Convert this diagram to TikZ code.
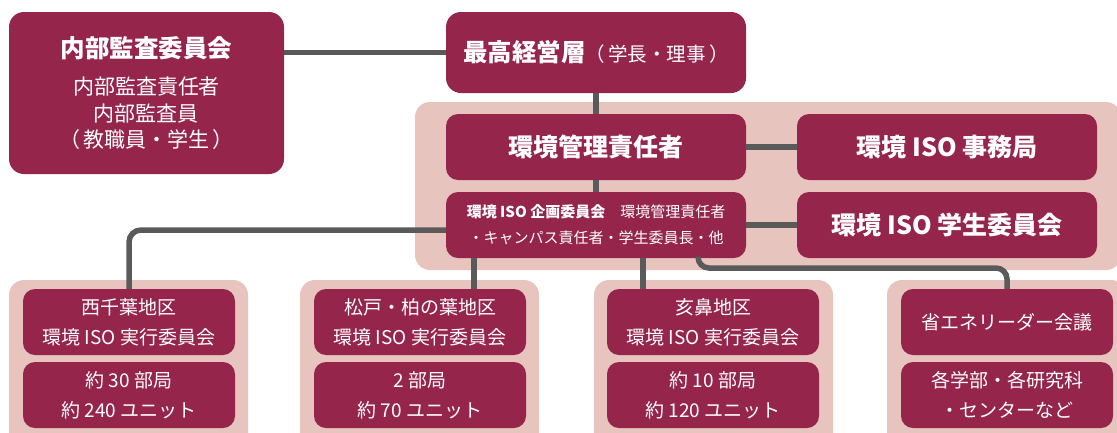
\documentclass[tikz,border=0pt]{standalone}
\usepackage{fontspec}
\setmainfont{Noto Sans CJK JP}
\definecolor{boxred}{RGB}{149,37,74}
\definecolor{bgpink}{RGB}{232,196,190}
\definecolor{linegray}{RGB}{90,90,90}
\begin{document}
\begin{tikzpicture}[x=1pt,y=-1pt,
  box/.style={fill=boxred,draw=none,rounded corners=12,text=white,align=center,inner sep=0pt,minimum width=300,minimum height=66},
  bgbox/.style={fill=bgpink,draw=none,rounded corners=15,inner sep=0pt},
  smallbox/.style={box,minimum width=212,minimum height=66,font=\fontsize{19}{30}\selectfont},
  bigt/.style={font=\fontsize{25}{30}\selectfont\bfseries},
  conn/.style={draw=linegray,line width=5.5}]
\useasboundingbox (0,0) rectangle (1117,432);
\clip (0,0) rectangle (1117,432);
% backgrounds
\node[bgbox,minimum width=706,minimum height=168] (bigbg) at (768,186) {};
\node[bgbox,minimum width=239,minimum height=190] (g1bg) at (128.5,375) {};
\node[bgbox,minimum width=239,minimum height=190] (g2bg) at (419.5,375) {};
\node[bgbox,minimum width=239,minimum height=190] (g3bg) at (713.5,375) {};
\node[bgbox,minimum width=239,minimum height=190] (g4bg) at (1006.5,375) {};
% connector helper coordinates
\coordinate (c2) at (474,0);
\coordinate (c3) at (643,0);
\coordinate (c4) at (698,0);
\coordinate (h4) at (0,268);
% main boxes
\node[box,rounded corners=15,minimum width=275,minimum height=162,font=\fontsize{21}{26.5}\selectfont] (audit) at (146.5,93)
  {{\fontsize{24.5}{28}\selectfont\bfseries 内部監査委員会}\\[11pt]内部監査責任者\\内部監査員\\（\,教職員・学生\,）};
\node[box,rounded corners=15,minimum height=81] (top) at (596,52.5)
  {{\fontsize{24.5}{28}\selectfont\bfseries 最高経営層}{\fontsize{19.5}{28}\selectfont （\,学長・理事\,）}};
\node[box,bigt] (mgr) at (596,147) {環境管理責任者};
\node[box,bigt] (office) at (947,147) {環境 ISO 事務局};
\node[box,font=\fontsize{15}{26}\selectfont] (plan) at (596,225)
  {{\bfseries 環境 ISO 企画委員会}\quad 環境管理責任者\\・キャンパス責任者・学生委員長・他};
\node[box,bigt] (student) at (947,225) {環境 ISO 学生委員会};
% bottom groups
\node[smallbox] (g1top) at (129,322) {西千葉地区\\環境 ISO 実行委員会};
\node[smallbox] (g1bot) at (129,395) {約 30 部局\\約 240 ユニット};
\node[smallbox] (g2top) at (420,322) {松戸・柏の葉地区\\環境 ISO 実行委員会};
\node[smallbox] (g2bot) at (420,395) {2 部局\\約 70 ユニット};
\node[smallbox] (g3top) at (713,322) {亥鼻地区\\環境 ISO 実行委員会};
\node[smallbox] (g3bot) at (713,395) {約 10 部局\\約 120 ユニット};
\node[smallbox] (g4top) at (1007,322) {省エネリーダー会議};
\node[smallbox] (g4bot) at (1007,395) {各学部・各研究科\\・センターなど};
% connectors
\draw[conn] (top.west) -- (top.west -| audit.east);
\draw[conn] (top.south) -- (mgr.north);
\draw[conn] (mgr.east) -- (office.west);
\draw[conn] (mgr.south) -- (plan.north);
\draw[conn] (plan.east) -- (student.west);
\draw[conn,rounded corners=12] ([yshift=-5pt]plan.west) -| (g1top.north);
\draw[conn] (c2 |- plan.south) -- (c2 |- g2top.north);
\draw[conn] (c3 |- plan.south) -- (c3 |- g3top.north);
\draw[conn,rounded corners=11] (c4 |- plan.south) |- (g4top.north |- h4) -- (g4top.north);
\end{tikzpicture}
\end{document}
